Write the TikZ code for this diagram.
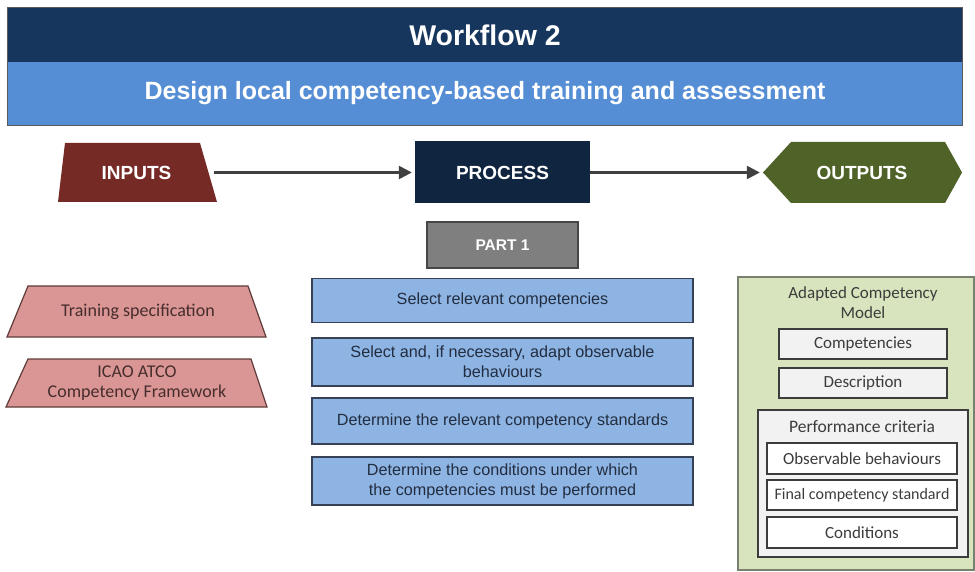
\documentclass[tikz,border=0pt]{standalone}
\usepackage{fontspec}
\setmainfont{Liberation Sans}
\newfontfamily\carlito{Carlito}
\usetikzlibrary{arrows.meta}
\definecolor{titlenavy}{RGB}{23,54,93}
\definecolor{subblue}{RGB}{85,142,213}
\definecolor{bordergray}{RGB}{90,90,90}
\definecolor{inred}{RGB}{118,42,38}
\definecolor{procnavy}{RGB}{16,37,63}
\definecolor{outgreen}{RGB}{79,98,40}
\definecolor{partgray}{RGB}{127,127,127}
\definecolor{partline}{RGB}{70,70,70}
\definecolor{inboxfill}{RGB}{218,150,148}
\definecolor{inboxline}{RGB}{95,60,58}
\definecolor{intext}{RGB}{70,45,45}
\definecolor{pboxfill}{RGB}{141,180,226}
\definecolor{pboxline}{RGB}{55,65,85}
\definecolor{ptext}{RGB}{35,45,65}
\definecolor{panelfill}{RGB}{215,228,189}
\definecolor{panelline}{RGB}{120,128,110}
\definecolor{lightbox}{RGB}{242,242,242}
\definecolor{boxline}{RGB}{60,60,60}
\definecolor{arrgray}{RGB}{64,64,64}
\begin{document}
\begin{tikzpicture}[x=1pt,y=-1pt,
  band/.style={rectangle, inner sep=0pt, text=white, font=\bfseries},
  head/.style={rectangle, inner sep=0pt, text=white, font=\bfseries\fontsize{19}{22}\selectfont},
  arr/.style={draw=arrgray, line width=2.5pt, shorten >=3pt, -{Triangle[length=13pt,width=13pt]}},
  inshape/.style={fill=inboxfill, draw=inboxline, line width=1.2pt},
  intxt/.style={inner sep=0pt, text=intext, align=center, font=\carlito\fontsize{18}{20.5}\selectfont},
  pbox/.style={rectangle, draw=pboxline, fill=pboxfill, line width=1.3pt, minimum width=381pt, text=ptext, align=center, inner sep=0pt, font=\fontsize{16.2}{20}\selectfont},
  obox/.style={rectangle, draw=boxline, line width=1.3pt, text=boxline, inner sep=0pt, align=center, font=\carlito\fontsize{17}{20}\selectfont},
]
\useasboundingbox (0,0) rectangle (975,572);
\fill[white] (0,0) rectangle (975,572);
% title
\node[band, fill=titlenavy, minimum width=954pt, minimum height=54pt, font=\bfseries\fontsize{28.5}{32}\selectfont] (title) at (485,35) {Workflow 2};
\node[band, fill=subblue, minimum width=954pt, minimum height=63pt, font=\bfseries\fontsize{25}{28}\selectfont] (sub) at (485,93.5) {Design local competency-based training and assessment};
\draw[bordergray, line width=1.2pt] (title.north west) rectangle (sub.south east);
% header row
\fill[inred] (65,143) -- (200,143) -- (217,202) -- (58,202) -- cycle;
\node[head, minimum width=155pt, minimum height=59pt] (inputs) at (136.5,172.5) {INPUTS};
\node[head, fill=procnavy, minimum width=175pt, minimum height=62pt] (process) at (502.5,172.5) {PROCESS};
\fill[outgreen] (763,172.5) -- (791,142) -- (945,142) -- (962,172.5) -- (945,203) -- (791,203) -- cycle;
\node[head, minimum width=198pt, minimum height=61pt] (outputs) at (862,172.5) {OUTPUTS};
\draw[arr] (inputs.east) -- (process.west);
\draw[arr] (process.east) -- (outputs.west);
% part 1
\node[rectangle, fill=partgray, draw=partline, line width=1.2pt, minimum width=151pt, minimum height=46pt, text=white, font=\bfseries\fontsize{15.5}{18}\selectfont] (part) at (502.5,245) {PART 1};
% inputs
\filldraw[inshape] (28,286) -- (248,286) -- (266,337) -- (7,337) -- cycle;
\node[intxt] (ts) at (138,311.5) {Training specification};
\filldraw[inshape] (28,359) -- (251,359) -- (267,407) -- (6,407) -- cycle;
\node[intxt] (icao) at (137,383) {ICAO ATCO\\Competency Framework};
% process boxes
\node[pbox, minimum height=44pt] (p1) at (502.5,300.5) {Select relevant competencies};
\node[pbox, minimum height=48pt] (p2) at (502.5,362) {Select and, if necessary, adapt observable\\behaviours};
\node[pbox, minimum height=46pt] (p3) at (502.5,421) {Determine the relevant competency standards};
\node[pbox, minimum height=48pt] (p4) at (502.5,481) {Determine the conditions under which\\the competencies must be performed};
% outputs panel
\node[rectangle, fill=panelfill, draw=panelline, line width=1.3pt, minimum width=236pt, minimum height=293pt] (panel) at (856,423.5) {};
\node[inner sep=0pt, text=boxline, align=center, font=\carlito\fontsize{17}{20}\selectfont] (acm) at (863,303) {Adapted Competency\\Model};
\node[obox, fill=lightbox, minimum width=168pt, minimum height=30pt] (comp) at (863,344) {Competencies};
\node[obox, fill=lightbox, minimum width=168pt, minimum height=30pt] (desc) at (863,383) {Description};
\node[obox, fill=lightbox, minimum width=210pt, minimum height=147pt] (perf) at (863,483.5) {};
\node[inner sep=0pt, text=boxline, font=\carlito\fontsize{17.5}{20}\selectfont] (perfl) at (862,427) {Performance criteria};
\node[obox, fill=white, minimum width=190pt, minimum height=31pt] (ob) at (862,458.5) {Observable behaviours};
\node[obox, fill=white, minimum width=190pt, minimum height=30pt, font=\carlito\fontsize{16}{19}\selectfont] (fin) at (862,495) {Final competency standard};
\node[obox, fill=white, minimum width=190pt, minimum height=31pt] (cond) at (862,532.5) {Conditions};
\end{tikzpicture}
\end{document}
